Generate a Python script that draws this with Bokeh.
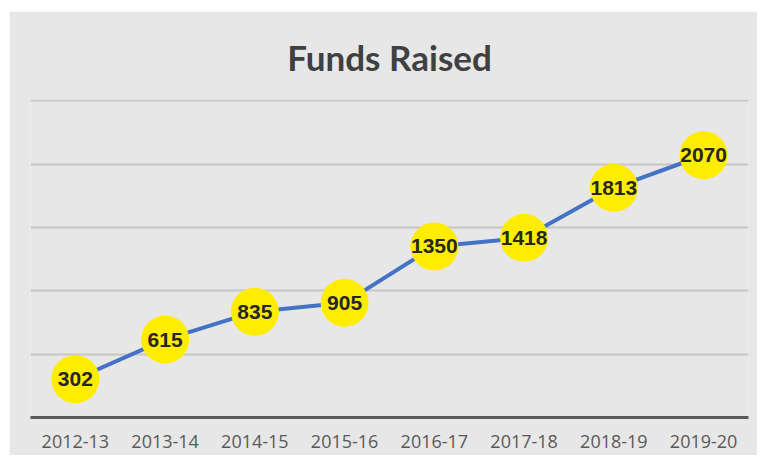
from bokeh.plotting import figure
from bokeh.models import Range1d, FixedTicker, ColumnDataSource, Title, LabelSet
from bokeh.embed import file_html
from bokeh.resources import INLINE
from bokeh.core.properties import value

years = ["2012-13", "2013-14", "2014-15", "2015-16", "2016-17", "2017-18", "2018-19", "2019-20"]
funds = [302, 615, 835, 905, 1350, 1418, 1813, 2070]
grid_ticks = [500, 1000, 1500, 2000, 2500]
title_text = "Funds Raised"

src = ColumnDataSource(dict(x=years, y=funds, lab=[str(v) for v in funds]))

p = figure(x_range=years, y_range=Range1d(0, 2510), width=748, height=444,
           output_backend="svg", toolbar_location=None,
           min_border_left=21, min_border_right=9, min_border_top=88, min_border_bottom=38)
p.margin = (11, 0, 0, 9)

bg = "#e7e7e7"
p.background_fill_color = bg
p.border_fill_color = bg
p.outline_line_color = None

p.title = Title(text=title_text, align="center", text_font="Lato",
                text_font_size="35px", text_font_style="bold", text_color="#404040",
                standoff=43)

p.yaxis.visible = False
p.ygrid.ticker = FixedTicker(ticks=grid_ticks)
p.ygrid.grid_line_color = "#c6c6c6"
p.ygrid.grid_line_width = 2
p.xgrid.grid_line_color = None

p.xaxis.axis_line_color = "#595959"
p.xaxis.axis_line_width = 3
p.xaxis.major_tick_line_color = None
p.xaxis.minor_tick_line_color = None
p.xaxis.major_label_text_font = "Open Sans"
p.xaxis.major_label_text_font_size = "18px"
p.xaxis.major_label_text_color = "#595959"
p.xaxis.major_label_standoff = 11

p.line("x", "y", source=src, line_color="#4472C4", line_width=4)
p.scatter("x", "y", source=src, size=48, fill_color="#FFED00", line_color=None)
p.add_layout(LabelSet(x="x", y="y", text="lab", source=src, text_align="center",
                      text_baseline="middle", text_font=value("Liberation Sans"),
                      text_font_size="21px", text_font_style="bold", text_color="#262626"))

open("out.html", "w").write(file_html(p, INLINE))
